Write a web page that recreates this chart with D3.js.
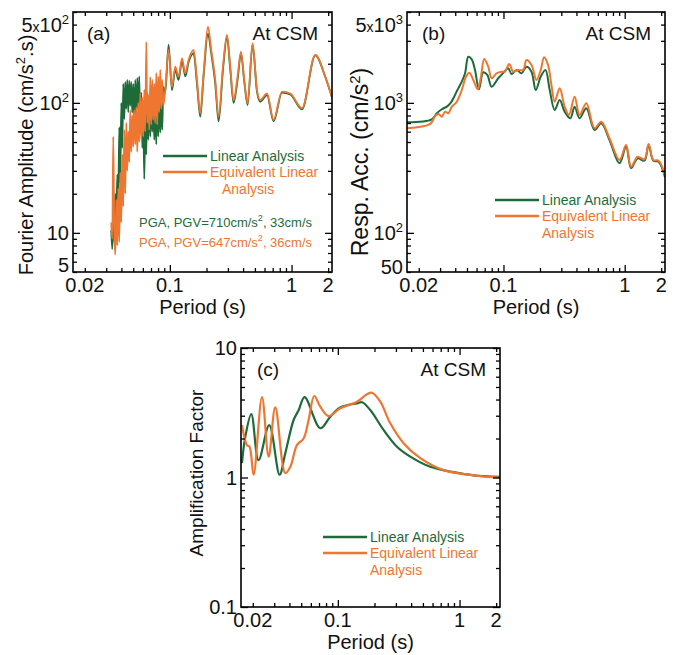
<!DOCTYPE html>
<html>
<head>
<meta charset="utf-8">
<script src="https://cdn.jsdelivr.net/npm/d3@7"></script>
<style>
  body { margin: 0; background: #fff; }
  svg text { font-family: "Liberation Sans", Arial, sans-serif; }
</style>
</head>
<body>
<svg id="fig" width="676" height="655"></svg>
<script>
// ---------- data ----------
const periodDomain = [0.016, 2.15];
const green = "#1e6b3a";
const orange = "#ee7630";

// (a) Fourier amplitude spectra at CSM (cm/s^2.s)
const periodsA = [0.03300,0.03363,0.03427,0.03493,0.03560,0.03628,0.03697,0.03768,0.03840,0.03913,
  0.03988,0.04064,0.04142,0.04221,0.04301,0.04383,0.04467,0.04553,0.04640,0.04728,
  0.04818,0.04910,0.05004,0.05100,0.05197,0.05297,0.05398,0.05501,0.05606,0.05713,
  0.05822,0.05933,0.06047,0.06162,0.06280,0.06400,0.06522,0.06647,0.06774,0.06903,
  0.07035,0.07170,0.07306,0.07446,0.07588,0.07733,0.07881,0.08031,0.08185,0.08341,
  0.08500,0.08663,0.08828,
  0.0917,0.0976,0.1041,0.1108,0.1179,0.1258,0.1339,0.1425,0.1567,0.1671,
  0.1778,0.1893,0.2057,0.2189,0.2362,0.2515,0.2732,0.2947,0.3137,0.3339,
  0.3601,0.3840,0.4089,0.4352,0.4784,0.5199,0.5534,0.6283,0.7116,0.8344,
  0.9761,1.218,1.567,1.893,2.149];
const linearA = [10.5,7.5,14,8.5,20,12,28,18,65,24,
  100,45,140,75,145,90,150,85,148,95,
  145,84,140,75,150,80,155,90,160,65,
  120,45,80,26,70,40,119,52,110,55,
  105,60,100,52,95,48,119,55,110,59,
  100,62,133,
  120,280,125,180,150,210,160,205,240,140,
  78,160,340,240,140,72,180,320,180,100,
  150,240,145,96,280,122,102,115,72,120,
  116,89,232,158,110];
const equivA = [12,9,55,10,6.8,18,8,22,8.5,29,
  12,40,16,62,20,70,30,60,35,88,
  42,80,46,88,48,93,42,100,50,119,
  52,110,55,126,60,294,70,115,62,158,
  68,150,74,140,70,170,68,160,85,179,
  90,150,95,
  126,255,133,190,159,220,169,214,255,150,
  83,169,385,255,150,78,190,333,190,105,
  159,248,150,99,288,126,105,118,74,122,
  118,91,234,159,111];

// (b) response acceleration spectra (cm/s^2): [period, value]
const linearB = [[0.0160,709],[0.02567,748],[0.02821,832],[0.0310,893],[0.0341,935],[0.0368,1003],
  [0.0392,1116],[0.0417,1256],[0.0453,1455],[0.0482,1690],[0.0513,2265],[0.0547,2163],
  [0.0582,1791],[0.0628,1273],[0.0681,1719],[0.0735,1640],[0.0799,1332],[0.0905,1546],
  [0.1008,1719],[0.1093,1847],[0.1166,1668],[0.1282,1791],[0.1409,1690],[0.1549,1897],
  [0.1702,1738],[0.1847,1256],[0.2030,1591],[0.2219,1791],[0.2407,1256],[0.2646,882],
  [0.2909,1052],[0.3197,856],[0.3561,761],[0.3862,935],[0.4246,761],[0.482,909],
  [0.564,619],[0.6402,697],[0.7489,518],[0.9052,343],[1.027,460],[1.129,314],
  [1.279,375],[1.453,359],[1.576,474],[1.722,359],[1.904,353],[2.15,268]];
const equivB = [[0.0160,638],[0.02486,689],[0.02732,793],[0.0291,822],[0.0310,783],[0.0330,856],
  [0.0351,832],[0.0375,935],[0.0412,1021],[0.0453,1256],[0.0491,1591],[0.0523,1707],
  [0.0564,1500],[0.0613,1273],[0.0649,1546],[0.0694,2177],[0.0749,1897],[0.0799,1546],
  [0.0878,1690],[0.0965,1738],[0.1027,1738],[0.1115,1990],[0.1202,1738],[0.1321,1791],
  [0.1453,1791],[0.1549,2138],[0.1702,1958],[0.1872,1500],[0.2030,1791],[0.2162,2244],
  [0.2331,1958],[0.2486,1373],[0.2646,1021],[0.2909,1295],[0.3197,935],[0.3468,807],
  [0.3862,1116],[0.4246,807],[0.482,993],[0.564,638],[0.6402,717],[0.7489,534],
  [0.9052,364],[1.027,474],[1.129,323],[1.279,385],[1.453,368],[1.576,483],
  [1.722,364],[1.904,359],[2.15,276]];

// (c) amplification factor: [period, value]
const linearC = [[0.0163,1.29],[0.01735,2.06],[0.01944,3.09],[0.0223,1.36],[0.0273,2.54],
  [0.0332,1.05],[0.0370,1.54],[0.0433,2.78],[0.0476,3.3],[0.0533,4.17],[0.0717,2.4],
  [0.0867,2.95],[0.1047,3.48],[0.1436,3.74],[0.158,3.81],[0.1847,3.32],[0.2375,2.33],
  [0.306,1.73],[0.3937,1.45],[0.5747,1.21],[0.893,1.1],[1.3,1.04],[2.15,1.01]];
const equivC = [[0.0163,2.54],[0.0179,1.78],[0.0188,1.73],[0.0203,1.05],[0.0238,4.17],
  [0.027,1.45],[0.0306,3.48],[0.037,1.08],[0.0407,1.21],[0.0461,1.78],[0.0523,2.0],
  [0.0575,2.78],[0.064,4.26],[0.0717,3.52],[0.0839,2.98],[0.1047,3.42],[0.1436,3.85],
  [0.1735,4.39],[0.1907,4.51],[0.2232,3.85],[0.2697,2.62],[0.3467,1.84],[0.4758,1.41],
  [0.739,1.14],[1.3,1.04],[2.15,1.0]];

// tick values
const periodTickLabels = [0.02, 0.1, 1, 2];
const periodMajor = [0.1, 1];
const periodMinor = [0.02,0.03,0.04,0.05,0.06,0.07,0.08,0.09,0.2,0.3,0.4,0.5,0.6,0.7,0.8,0.9,2];
const legendNames = ["Linear Analysis", "Equivalent Linear", "Analysis"];

// ---------- drawing ----------
const svg = d3.select("#fig");

function minorDecades(lo, hi) {
  const out = [];
  for (let e = Math.floor(Math.log10(lo)); e <= Math.ceil(Math.log10(hi)); e++) {
    for (let m = 2; m <= 9; m++) {
      const v = m * Math.pow(10, e);
      if (v >= lo * 0.999 && v <= hi * 1.001) out.push(v);
    }
  }
  return out;
}

// y tick label, either plain text or "m x 10^e"
function yLabel(sel, spec) {
  if (spec.mant) {
    sel.append("tspan").text(spec.mant);
    sel.append("tspan").attr("font-size", 14).text("x");
  }
  if (spec.exp) {
    sel.append("tspan").text("10");
    sel.append("tspan").attr("font-size", 13).attr("dy", -8).text(spec.exp);
  } else {
    sel.append("tspan").text(spec.text);
  }
}

function drawPanel(cfg) {
  const g = svg.append("g").attr("transform", `translate(${cfg.left},${cfg.top})`);
  const w = cfg.width, h = cfg.height;
  const x = d3.scaleLog().domain(periodDomain).range([0, w]);
  const y = d3.scaleLog().domain(cfg.yDomain).range([h, 0]);

  const clipId = "clip-" + cfg.id;
  g.append("clipPath").attr("id", clipId).append("rect").attr("width", w).attr("height", h);

  const line = d3.line().x(d => x(d[0])).y(d => y(d[1])).curve(cfg.curve);
  cfg.series.forEach(s => {
    g.append("path").datum(s.data)
      .attr("clip-path", `url(#${clipId})`)
      .attr("fill", "none").attr("stroke", s.color)
      .attr("stroke-width", s.width).attr("stroke-linejoin", "round")
      .attr("d", line);
  });

  // inward ticks on all four sides
  const yMajor = cfg.yMajor, yMinor = minorDecades(cfg.yDomain[0], cfg.yDomain[1]);
  const axes = [
    [d3.axisBottom(x), `translate(0,${h})`, periodMinor, periodMajor],
    [d3.axisTop(x), null, periodMinor, periodMajor],
    [d3.axisLeft(y), null, yMinor, yMajor],
    [d3.axisRight(y), `translate(${w},0)`, yMinor, yMajor]
  ];
  axes.forEach(([ax, tr, minor, major]) => {
    [[minor, -4], [major, -7]].forEach(([vals, size]) => {
      const a = g.append("g").call(ax.tickValues(vals).tickSizeInner(size).tickSizeOuter(0).tickFormat(""));
      if (tr) a.attr("transform", tr);
      a.select(".domain").remove();
      a.selectAll("line").attr("stroke", "#000").attr("stroke-width", 1.3);
    });
  });
  g.append("rect").attr("width", w).attr("height", h)
    .attr("fill", "none").attr("stroke", "#000").attr("stroke-width", 1.6);

  // x tick labels
  g.selectAll(".xl").data(periodTickLabels).join("text")
    .attr("x", d => x(d)).attr("y", h + 20).attr("text-anchor", "middle")
    .attr("font-size", 20).attr("fill", "#111").text(d => d);
  g.append("text").attr("x", w / 2).attr("y", h + 42).attr("text-anchor", "middle")
    .attr("font-size", 20).attr("fill", "#111").text("Period (s)");

  // y tick labels
  cfg.yLabels.forEach(spec => {
    const t = g.append("text").attr("x", -4).attr("y", y(spec.v) + 7 + (spec.dy || 0))
      .attr("text-anchor", "end").attr("font-size", 20).attr("fill", "#111");
    yLabel(t, spec);
  });

  // y title
  const yt = g.append("text").attr("transform", `translate(${cfg.yTitleX},${cfg.yTitleY}) rotate(-90)`)
    .attr("text-anchor", "middle").attr("font-size", cfg.yTitleSize).attr("fill", "#111");
  cfg.yTitle(yt);

  // panel tag and site name
  g.append("text").attr("x", cfg.tagX).attr("y", 28).attr("font-size", 19).attr("fill", "#111").text(cfg.tag);
  g.append("text").attr("x", w - 14).attr("y", 28).attr("text-anchor", "end")
    .attr("font-size", 19).attr("fill", "#111").text("At CSM");

  // legend
  const lg = g.append("g").attr("transform", `translate(${cfg.legendX},${cfg.legendY})`);
  [[green, 0], [orange, 16]].forEach(([c, dy]) => {
    lg.append("line").attr("x1", 0).attr("x2", 44).attr("y1", dy).attr("y2", dy)
      .attr("stroke", c).attr("stroke-width", 2.4);
  });
  lg.append("text").attr("x", 47).attr("y", 5).attr("font-size", 14).attr("fill", green).text(legendNames[0]);
  lg.append("text").attr("x", 47).attr("y", 21).attr("font-size", 14).attr("fill", orange).text(legendNames[1]);
  lg.append("text").attr("x", 47 + (cfg.legendIndent || 0)).attr("y", 38).attr("font-size", 14)
    .attr("fill", orange).text(legendNames[2]);

  return g;
}

function supTitle(parts) {
  return sel => parts.forEach(p => {
    const t = sel.append("tspan").text(p.t);
    if (p.sup) t.attr("font-size", "0.65em").attr("dy", -8);
    if (p.after) t.attr("dy", 8);
  });
}

// (a)
const gA = drawPanel({
  id: "a", left: 73, top: 12, width: 259, height: 260,
  yDomain: [5, 500], yMajor: [10, 100],
  yLabels: [{ v: 500, mant: "5", exp: "2", dy: 13 }, { v: 100, exp: "2" }, { v: 10, text: "10" }, { v: 5, text: "5", dy: -7 }],
  curve: d3.curveMonotoneX,
  series: [
    { color: green, width: 1.8, data: periodsA.map((p, i) => [p, linearA[i]]) },
    { color: orange, width: 1.8, data: periodsA.map((p, i) => [p, equivA[i]]) }
  ],
  yTitle: supTitle([{ t: "Fourier Amplitude (cm/s" }, { t: "2", sup: true }, { t: ".s)", after: true }]),
  yTitleX: -40, yTitleY: 143, yTitleSize: 20,
  tag: "(a)", tagX: 14, legendX: 90, legendY: 144, legendIndent: 12
});
gA.append("text").attr("x", 66).attr("y", 215).attr("font-size", 13).attr("fill", green)
  .call(t => { t.append("tspan").text("PGA, PGV=710cm/s"); t.append("tspan").attr("font-size", 9).attr("dy", -6).text("2");
               t.append("tspan").attr("dy", 6).text(", 33cm/s"); });
gA.append("text").attr("x", 66).attr("y", 235).attr("font-size", 13).attr("fill", orange)
  .call(t => { t.append("tspan").text("PGA, PGV=647cm/s"); t.append("tspan").attr("font-size", 9).attr("dy", -6).text("2");
               t.append("tspan").attr("dy", 6).text(", 36cm/s"); });

// (b)
drawPanel({
  id: "b", left: 407, top: 12, width: 258, height: 260,
  yDomain: [50, 5000], yMajor: [100, 1000],
  yLabels: [{ v: 5000, mant: "5", exp: "3", dy: 13 }, { v: 1000, exp: "3" }, { v: 100, exp: "2" }, { v: 50, text: "50", dy: -5 }],
  curve: d3.curveCatmullRom.alpha(0.5),
  series: [
    { color: green, width: 2, data: linearB },
    { color: orange, width: 2, data: equivB }
  ],
  yTitle: supTitle([{ t: "Resp. Acc. (cm/s" }, { t: "2", sup: true }, { t: ")", after: true }]),
  yTitleX: -39, yTitleY: 150, yTitleSize: 23,
  tag: "(b)", tagX: 15, legendX: 88, legendY: 188
});

// (c)
drawPanel({
  id: "c", left: 241, top: 348, width: 259, height: 259,
  yDomain: [0.1, 10], yMajor: [0.1, 1, 10],
  yLabels: [{ v: 10, text: "10" }, { v: 1, text: "1" }, { v: 0.1, text: "0.1" }],
  curve: d3.curveCatmullRom.alpha(0.5),
  series: [
    { color: green, width: 2.2, data: linearC },
    { color: orange, width: 2.2, data: equivC }
  ],
  yTitle: supTitle([{ t: "Amplification Factor" }]),
  yTitleX: -38, yTitleY: 125, yTitleSize: 19,
  tag: "(c)", tagX: 16, legendX: 82, legendY: 189
});
</script>
</body>
</html>
